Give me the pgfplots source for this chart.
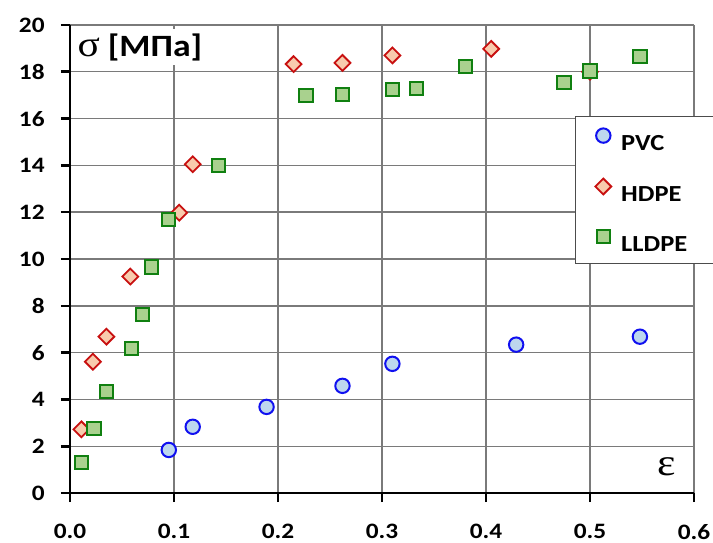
\documentclass[border=0pt]{standalone}
\usepackage{fontspec}
\setmainfont[FakeStretch=1.15]{Carlito}
\newfontfamily\greekfont[FakeStretch=1.15]{Liberation Serif}
\usepackage{pgfplots}
\pgfplotsset{compat=1.18}
\definecolor{pvcfill}{HTML}{BDD7EE}
\definecolor{pvcedge}{HTML}{1010F0}
\definecolor{hdfill}{HTML}{F8CBAD}
\definecolor{hdedge}{HTML}{C81010}
\definecolor{llfill}{HTML}{A9D18E}
\definecolor{lledge}{HTML}{108010}
\begin{document}
\begin{tikzpicture}
\path[use as bounding box] (-35pt,-24.5pt) rectangle (321.5pt,246.5pt);
\begin{axis}[
  at={(0,0)}, anchor=south west,
  scale only axis, width=312pt, height=234pt,
  xmin=0, xmax=0.6, ymin=0, ymax=20,
  xtick={0,0.1,0.2,0.3,0.4,0.5,0.6},
  ytick={0,2,4,6,8,10,12,14,16,18,20},
  grid=major, major grid style={black!52, line width=0.7pt},
  axis lines=left, axis line style={-, line width=1.3pt, black},
  tick align=outside, major tick length=4.5pt,
  tick style={line width=1.3pt, black},
  /pgf/number format/assume math mode=true,
  ticklabel style={font=\bfseries\fontsize{11}{12}\selectfont, inner sep=1pt},
  xticklabel style={/pgf/number format/fixed, /pgf/number format/fixed zerofill, /pgf/number format/precision=1, yshift=-10pt},
  yticklabel style={xshift=-7pt},
  clip=false,
  legend style={at={(rel axis cs:0.809,0.806)}, anchor=north west,
    draw=black!70, line width=0.6pt, fill=white,
    font=\bfseries\fontsize{11.5}{12}\selectfont,
    inner xsep=10pt, inner ysep=6pt, row sep=14pt, column sep=5pt,
    nodes={inner sep=0pt, text height=7.5pt, text depth=0pt},
    cells={anchor=west}},
  legend image code/.code={\draw[mark repeat=2, mark phase=2, #1] plot coordinates {(0pt,3.75pt) (4pt,3.75pt) (8pt,3.75pt)};},
]
\addplot[only marks, mark=*, mark size=3.6pt, line width=1pt, draw=pvcedge, fill=pvcfill]
  coordinates {(0.095,1.84) (0.118,2.83) (0.189,3.68) (0.262,4.58) (0.310,5.52) (0.429,6.34) (0.548,6.68)};
\addlegendentry{PVC}
\addplot[only marks, mark=square*, mark size=2.8pt, line width=0.9pt, draw=hdedge, fill=hdfill, mark options={rotate=45}]
  coordinates {(0.011,2.72) (0.022,5.61) (0.035,6.68) (0.058,9.25) (0.105,11.98) (0.118,14.05) (0.215,18.33) (0.262,18.38) (0.310,18.70) (0.405,18.98) (0.500,18.0)};
\addlegendentry{HDPE}
\addplot[only marks, mark=square*, mark size=3.3pt, line width=1pt, draw=lledge, fill=llfill]
  coordinates {(0.011,1.30) (0.023,2.76) (0.035,4.35) (0.059,6.17) (0.070,7.62) (0.078,9.66) (0.095,11.70) (0.143,13.98) (0.227,16.98) (0.262,17.03) (0.310,17.25) (0.333,17.30) (0.380,18.22) (0.475,17.55) (0.500,18.03) (0.548,18.65)};
\addlegendentry{LLDPE\hspace*{3pt}}
\node[fill=white, inner xsep=2pt, inner ysep=2pt, font=\bfseries\fontsize{15.5}{18}\selectfont] at (rel axis cs:0.112,0.953) {{\greekfont\mdseries\fontsize{18}{20}\selectfont σ} [MПa]};
\node[fill=white, inner xsep=2pt, inner ysep=4pt, font=\greekfont\fontsize{19}{22}\selectfont] at (rel axis cs:0.956,0.057) {ε};
\end{axis}
\end{tikzpicture}
\end{document}
